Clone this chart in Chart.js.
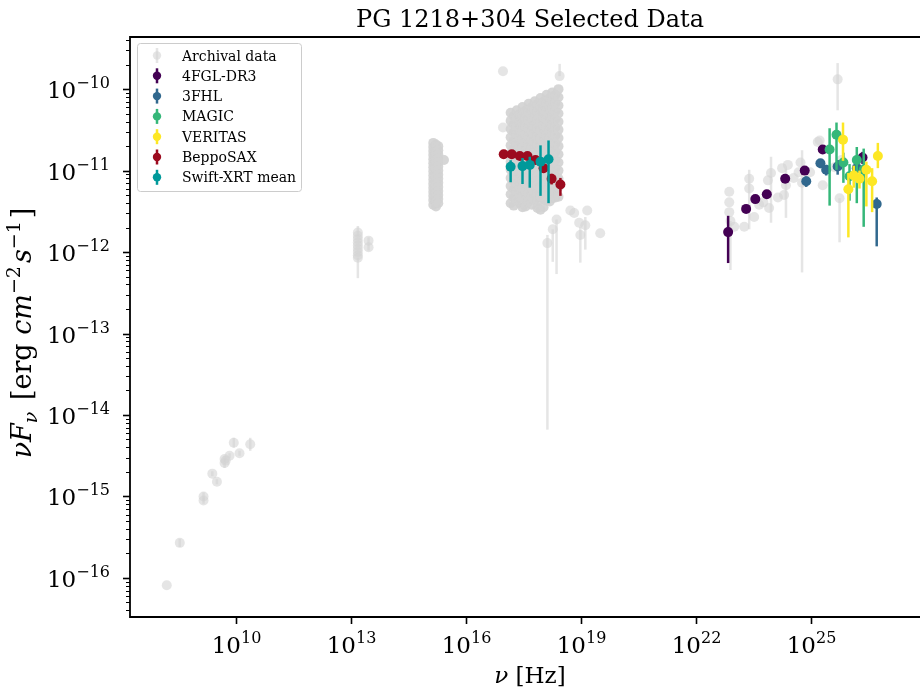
<!DOCTYPE html>
<html>
<head>
<meta charset="utf-8">
<title>PG 1218+304 Selected Data</title>
<script src="https://cdn.jsdelivr.net/npm/chart.js@4.4.1/dist/chart.umd.min.js"></script>
<style>
  html, body { margin: 0; padding: 0; background: #fff; }
  #sed { display: block; }
</style>
</head>
<body>
<canvas id="sed" width="920" height="691"></canvas>
<script>
// ---------- data: log10(nu / Hz), log10(nuFnu / erg cm-2 s-1), error down / up in dex ----------
const fglLogNu = [22.84, 23.31, 23.55, 23.85, 24.33, 24.84, 25.31, 26.35];
const fglLogF  = [-11.755, -11.47, -11.35, -11.29, -11.10, -11.00, -10.74, -10.84];
const fglErrLo = [0.38, 0.04, 0.03, 0.03, 0.03, 0.04, 0.05, 0.08];
const fglErrHi = [0.20, 0.04, 0.03, 0.03, 0.03, 0.04, 0.05, 0.07];

const fhlLogNu = [24.88, 25.25, 25.40, 25.70, 26.20, 26.72];
const fhlLogF  = [-11.13, -10.91, -10.99, -10.95, -10.97, -11.41];
const fhlErrLo = [0.07, 0.06, 0.07, 0.10, 0.13, 0.52];
const fhlErrHi = [0.06, 0.05, 0.06, 0.08, 0.10, 0.08];

const magicLogNu = [25.49, 25.67, 25.85, 26.01, 26.20, 26.38];
const magicLogF  = [-10.74, -10.56, -10.90, -11.07, -10.87, -10.99];
const magicErrLo = [0.69, 0.43, 0.25, 0.30, 0.53, 0.70];
const magicErrHi = [0.26, 0.15, 0.12, 0.15, 0.16, 0.26];

const veritasLogNu = [25.84, 25.98, 26.12, 26.27, 26.45, 26.60, 26.75];
const veritasLogF  = [-10.62, -11.23, -11.06, -11.10, -10.99, -11.13, -10.82];
const veritasErrLo = [0.26, 0.59, 0.15, 0.12, 0.45, 0.38, 0.15];
const veritasErrHi = [0.21, 0.20, 0.12, 0.10, 0.10, 0.16, 0.16];

const beppoLogNu = [16.98, 17.19, 17.40, 17.60, 17.81, 18.02, 18.23, 18.46];
const beppoLogF  = [-10.80, -10.80, -10.82, -10.82, -10.87, -10.97, -11.10, -11.17];
const beppoErrLo = [0.03, 0.03, 0.03, 0.03, 0.04, 0.06, 0.07, 0.14];
const beppoErrHi = [0.03, 0.03, 0.03, 0.03, 0.04, 0.05, 0.06, 0.08];

const swiftLogNu = [17.16, 17.47, 17.66, 17.94, 18.15];
const swiftLogF  = [-10.953, -10.945, -10.93, -10.89, -10.86];
const swiftErrLo = [0.19, 0.22, 0.28, 0.42, 0.54];
const swiftErrHi = [0.08, 0.10, 0.10, 0.20, 0.23];

// archival points: [logNu, logF, errLo, errHi]
const archivalPoints = [
  // radio
  [8.18, -16.09, 0, 0], [8.52, -15.57, 0.05, 0.05], [9.14, -15.00, 0.05, 0.05],
  [9.14, -15.05, 0.04, 0.04], [9.37, -14.72, 0.03, 0.03], [9.49, -14.82, 0.03, 0.03],
  [9.69, -14.59, 0.06, 0.06], [9.69, -14.54, 0.04, 0.04], [9.72, -14.56, 0, 0],
  [9.82, -14.50, 0.03, 0.03], [9.93, -14.34, 0.06, 0.06], [10.08, -14.47, 0.03, 0.03],
  [10.36, -14.36, 0.08, 0.08],
  // infrared
  [13.17, -11.76, 0.05, 0.08], [13.17, -11.84, 0, 0], [13.17, -11.92, 0, 0],
  [13.17, -12.00, 0, 0], [13.17, -12.07, 0.25, 0], [13.45, -11.86, 0.04, 0.04],
  [13.45, -11.94, 0.04, 0.04], [13.17, -11.80, 0, 0], [13.17, -11.88, 0, 0],
  [13.17, -11.96, 0, 0], [13.17, -12.04, 0, 0],
  // X-ray outliers and tail
  [16.96, -9.78, 0, 0], [16.96, -10.47, 0, 0], [18.44, -9.84, 0, 0.15],
  [18.72, -11.49, 0, 0], [18.82, -11.52, 0, 0], [18.95, -11.64, 0, 0],
  [19.16, -11.49, 0, 0], [19.50, -11.77, 0, 0], [18.98, -11.79, 0.34, 0.10],
  [18.12, -11.89, 2.29, 0.10], [18.26, -11.72, 0.40, 0], [18.36, -11.60, 0.67, 0],
  [19.11, -11.67, 0.30, 0.10], [17.47, -11.40, 0.10, 0],
  // gamma-ray
  [22.87, -11.26, 0, 0], [22.87, -11.39, 0, 0], [22.87, -11.51, 0, 0],
  [22.90, -11.62, 0.60, 0], [23.00, -11.69, 0, 0], [23.26, -11.69, 0, 0],
  [23.39, -11.10, 0.62, 0.11], [23.39, -11.22, 0, 0], [23.52, -11.57, 0, 0],
  [23.65, -11.42, 0, 0], [23.76, -11.39, 0, 0], [23.88, -11.12, 0, 0],
  [23.96, -11.03, 0.61, 0.20], [23.91, -11.46, 0, 0], [24.14, -11.33, 0, 0],
  [24.30, -11.30, 0, 0], [24.40, -10.93, 0, 0], [24.35, -11.18, 0.40, 0.20],
  [24.55, -11.09, 0, 0], [24.73, -10.90, 0, 0], [24.68, -11.02, 0, 0],
  [24.77, -11.15, 1.10, 0.40], [24.98, -11.02, 0, 0], [25.18, -10.65, 0, 0],
  [25.23, -10.63, 0, 0], [25.31, -11.18, 0, 0], [25.62, -10.96, 0, 0],
  [25.70, -9.88, 0.38, 0.20], [25.75, -11.34, 0.54, 0], [25.80, -10.87, 0, 0],
  [24.25, -10.97, 0, 0]
];

// optical/UV column, read column by column (many overlapping epochs)
const opticalNu = [15.14, 15.21, 15.27, 15.42];
const opticalF = [
  [-10.66, -10.71, -10.76, -10.81, -10.86, -10.91, -10.96, -11.01, -11.06, -11.11, -11.16, -11.21, -11.26, -11.31, -11.36, -11.42],
  [-10.68, -10.78, -10.88, -10.98, -11.08, -11.18, -11.28, -11.38, -11.44],
  [-10.70, -10.75, -10.80, -10.85, -10.90, -10.95, -11.00, -11.05, -11.10, -11.15, -11.20, -11.25, -11.30, -11.35, -11.40],
  [-10.87]
];

// dense X-ray light-curve region, read column by column (many overlapping epochs)
const xrayBlobNu = [17.16, 17.24, 17.32, 17.40, 17.47, 17.55, 17.63, 17.71, 17.79,
                    17.86, 17.94, 18.02, 18.10, 18.18, 18.25, 18.33, 18.41];
const xrayBlobF = [
  [-10.29, -10.39, -10.49, -10.59, -10.69, -10.79, -10.89, -10.99, -11.09, -11.19, -11.29, -11.40],
  [-10.33, -10.43, -10.53, -10.63, -10.73, -10.83, -10.93, -11.03, -11.13, -11.23, -11.33, -11.43],
  [-10.26, -10.36, -10.46, -10.56, -10.66, -10.76, -10.86, -10.96, -11.06, -11.16, -11.26, -11.36],
  [-10.30, -10.40, -10.50, -10.60, -10.70, -10.80, -10.90, -11.00, -11.10, -11.20, -11.30, -11.40],
  [-10.22, -10.32, -10.42, -10.52, -10.62, -10.72, -10.82, -10.92, -11.02, -11.12, -11.22, -11.33, -11.45],
  [-10.26, -10.36, -10.46, -10.56, -10.66, -10.76, -10.86, -10.96, -11.06, -11.16, -11.26, -11.36, -11.44],
  [-10.18, -10.28, -10.38, -10.48, -10.58, -10.68, -10.78, -10.88, -10.98, -11.08, -11.18, -11.28, -11.38],
  [-10.22, -10.32, -10.42, -10.52, -10.62, -10.72, -10.82, -10.92, -11.02, -11.12, -11.22, -11.32, -11.42],
  [-10.15, -10.25, -10.35, -10.45, -10.55, -10.65, -10.75, -10.85, -10.95, -11.05, -11.15, -11.25, -11.36],
  [-10.18, -10.28, -10.38, -10.48, -10.58, -10.68, -10.78, -10.88, -10.98, -11.08, -11.18, -11.28, -11.38, -11.46],
  [-10.11, -10.21, -10.31, -10.41, -10.51, -10.61, -10.71, -10.81, -10.91, -11.01, -11.11, -11.21, -11.32, -11.48],
  [-10.15, -10.25, -10.35, -10.45, -10.55, -10.65, -10.75, -10.85, -10.95, -11.05, -11.15, -11.25, -11.35, -11.45],
  [-10.07, -10.17, -10.27, -10.37, -10.47, -10.57, -10.67, -10.77, -10.87, -10.97, -11.07, -11.17, -11.27, -11.37],
  [-10.11, -10.21, -10.31, -10.41, -10.51, -10.61, -10.71, -10.81, -10.91, -11.01, -11.11, -11.21, -11.31, -11.38],
  [-10.04, -10.14, -10.24, -10.34, -10.44, -10.54, -10.64, -10.74, -10.84, -10.94, -11.04, -11.14, -11.24, -11.34],
  [-10.07, -10.17, -10.27, -10.37, -10.47, -10.57, -10.67, -10.77, -10.87, -10.97, -11.07, -11.17, -11.27, -11.33],
  [-10.00, -10.10, -10.20, -10.30, -10.40, -10.50, -10.60, -10.70, -10.80, -10.90, -11.00, -11.10, -11.20, -11.32]
];

const xTickExps = [10, 13, 16, 19, 22, 25];
const yTickExps = [-16, -15, -14, -13, -12, -11, -10];

// ---------- styles ----------
const SERIF = '"DejaVu Serif", "Liberation Serif", serif';
const ARCHIVAL_COLOR = 'rgba(211, 211, 211, 0.6)';
// where hundreds of archival epochs pile up the grey saturates
const ARCHIVAL_DENSE_COLOR = 'rgba(211, 211, 211, 0.92)';
const MARKER_R = 5;

// ---------- helpers ----------
function toPoints(logNu, logF, errLo, errHi) {
  return logNu.map((n, i) => ({
    x: 10 ** n,
    y: 10 ** logF[i],
    yMin: 10 ** (logF[i] - errLo[i]),
    yMax: 10 ** (logF[i] + errHi[i])
  }));
}

function columnPoints(nus, fluxCols) {
  const pts = [];
  nus.forEach((n, c) => {
    fluxCols[c].forEach(f => pts.push({ x: 10 ** n, y: 10 ** f, yMin: 10 ** f, yMax: 10 ** f, dense: true }));
  });
  return pts;
}

function archivalToPoints() {
  const pts = archivalPoints.map(p => ({
    x: 10 ** p[0], y: 10 ** p[1], yMin: 10 ** (p[1] - p[2]), yMax: 10 ** (p[1] + p[3])
  }));
  return pts.concat(columnPoints(opticalNu, opticalF), columnPoints(xrayBlobNu, xrayBlobF));
}

function makeSet(label, color, data, order) {
  return {
    label, data, order,
    backgroundColor: color,
    legendColor: color,
    errorColor: color,
    borderWidth: 0,
    pointRadius: MARKER_R,
    pointHoverRadius: MARKER_R
  };
}

// draws a row of text pieces (for superscripts / subscripts / italics)
function drawRuns(ctx, runs, x, y, align) {
  let total = 0;
  runs.forEach(r => { ctx.font = r.font; r.w = ctx.measureText(r.text).width + (r.gap || 0); total += r.w; });
  let cx = align === 'center' ? x - total / 2 : align === 'right' ? x - total : x;
  ctx.textAlign = 'left';
  ctx.textBaseline = 'alphabetic';
  runs.forEach(r => { ctx.font = r.font; ctx.fillText(r.text, cx, y + (r.dy || 0)); cx += r.w; });
}

function powRuns(exp) {
  const e = exp < 0 ? '\u2212' + Math.abs(exp) : String(exp);
  return [
    { text: '10', font: `23px ${SERIF}` },
    { text: e, font: `16px ${SERIF}`, dy: -10 }
  ];
}

// ---------- plugins ----------
const errorBarPlugin = {
  id: 'errorBars',
  beforeDatasetDraw(chart, args) {
    const ds = chart.data.datasets[args.index];
    const { ctx, chartArea: a, scales: { x, y } } = chart;
    ctx.save();
    ctx.beginPath();
    ctx.rect(a.left, a.top, a.right - a.left, a.bottom - a.top);
    ctx.clip();
    ctx.strokeStyle = ds.errorColor;
    ctx.lineWidth = 2.5;
    ds.data.forEach(p => {
      if (p.yMin === p.y && p.yMax === p.y) return;
      const px = x.getPixelForValue(p.x);
      ctx.beginPath();
      ctx.moveTo(px, y.getPixelForValue(p.yMax));
      ctx.lineTo(px, y.getPixelForValue(p.yMin));
      ctx.stroke();
    });
    ctx.restore();
  }
};

const axesPlugin = {
  id: 'mplAxes',
  afterDraw(chart) {
    const { ctx, chartArea: a, scales: { x, y } } = chart;
    // the axes run past the right edge of the picture; centre things on the full axes
    const axesRight = 930;
    const midX = (a.left + axesRight) / 2;
    ctx.save();
    ctx.fillStyle = '#000';
    ctx.strokeStyle = '#000';

    // spines (left, bottom, top)
    ctx.lineWidth = 1.8;
    ctx.beginPath();
    ctx.moveTo(axesRight, a.top); ctx.lineTo(a.left, a.top);
    ctx.lineTo(a.left, a.bottom); ctx.lineTo(axesRight, a.bottom);
    ctx.stroke();

    // x ticks + labels
    ctx.lineWidth = 1.6;
    xTickExps.forEach(e => {
      const px = Math.round(x.getPixelForValue(10 ** e)) + 0.5;
      ctx.beginPath(); ctx.moveTo(px, a.bottom); ctx.lineTo(px, a.bottom + 7); ctx.stroke();
      drawRuns(ctx, powRuns(e), px, a.bottom + 36, 'center');
    });

    // y major ticks + labels
    yTickExps.forEach(e => {
      const py = Math.round(y.getPixelForValue(10 ** e)) + 0.5;
      ctx.lineWidth = 1.6;
      ctx.beginPath(); ctx.moveTo(a.left - 7, py); ctx.lineTo(a.left, py); ctx.stroke();
      drawRuns(ctx, powRuns(e), a.left - 20, py + 8, 'right');
    });
    // y minor ticks
    ctx.lineWidth = 1;
    for (let e = -17; e <= -10; e++) {
      for (let k = 2; k <= 9; k++) {
        const v = k * 10 ** e;
        if (v < y.min || v > y.max) continue;
        const py = Math.round(y.getPixelForValue(v)) + 0.5;
        ctx.beginPath(); ctx.moveTo(a.left - 4, py); ctx.lineTo(a.left, py); ctx.stroke();
      }
    }

    // title
    ctx.font = `24px ${SERIF}`;
    ctx.textAlign = 'center';
    ctx.textBaseline = 'alphabetic';
    ctx.fillText('PG 1218+304 Selected Data', midX, 27);

    // x axis label
    drawRuns(ctx, [
      { text: '\u03bd', font: `italic 23px ${SERIF}` },
      { text: ' [Hz]', font: `23px ${SERIF}` }
    ], midX, 683, 'center');

    // y axis label
    ctx.save();
    ctx.translate(22, 333);
    ctx.rotate(-Math.PI / 2);
    drawRuns(ctx, [
      { text: '\u03bdF', font: `italic 27px ${SERIF}` },
      { text: '\u03bd', font: `italic 19px ${SERIF}`, dy: 6, gap: 3 },
      { text: ' [erg ', font: `27px ${SERIF}` },
      { text: 'cm', font: `italic 27px ${SERIF}` },
      { text: '\u22122', font: `19px ${SERIF}`, dy: -11, gap: 3 },
      { text: 's', font: `italic 27px ${SERIF}` },
      { text: '\u22121', font: `19px ${SERIF}`, dy: -11, gap: 3 },
      { text: ']', font: `27px ${SERIF}` }
    ], 0, 9, 'center');
    ctx.restore();

    // legend
    const lx = 137.5, ly = 43.5, lw = 164, lh = 148;
    ctx.beginPath();
    ctx.roundRect(lx, ly, lw, lh, 3);
    ctx.fillStyle = 'rgba(255,255,255,0.8)';
    ctx.fill();
    ctx.strokeStyle = '#cccccc';
    ctx.lineWidth = 1;
    ctx.stroke();
    const entries = chart.data.datasets.slice().sort((p, q) => q.order - p.order);
    entries.forEach((ds, i) => {
      const cy = 55.5 + i * 20.3;
      ctx.strokeStyle = ds.errorColor;
      ctx.fillStyle = ds.legendColor;
      ctx.lineWidth = 2.5;
      ctx.beginPath(); ctx.moveTo(157, cy - 7.5); ctx.lineTo(157, cy + 7.5); ctx.stroke();
      ctx.beginPath(); ctx.arc(157, cy, 4.2, 0, Math.PI * 2); ctx.fill();
      ctx.fillStyle = '#000';
      ctx.font = `14px ${SERIF}`;
      ctx.textAlign = 'left';
      ctx.fillText(ds.label, 182, cy + 5);
    });

    ctx.restore();
  }
};

// ---------- chart ----------
const archivalSet = makeSet('Archival data', ARCHIVAL_COLOR, archivalToPoints(), 6);
archivalSet.backgroundColor = c => (c.raw && c.raw.dense ? ARCHIVAL_DENSE_COLOR : ARCHIVAL_COLOR);

const datasets = [
  archivalSet,
  makeSet('4FGL-DR3', '#440154', toPoints(fglLogNu, fglLogF, fglErrLo, fglErrHi), 5),
  makeSet('3FHL', '#31688e', toPoints(fhlLogNu, fhlLogF, fhlErrLo, fhlErrHi), 4),
  makeSet('MAGIC', '#35b779', toPoints(magicLogNu, magicLogF, magicErrLo, magicErrHi), 3),
  makeSet('VERITAS', '#fde725', toPoints(veritasLogNu, veritasLogF, veritasErrLo, veritasErrHi), 2),
  makeSet('BeppoSAX', '#9c0b1f', toPoints(beppoLogNu, beppoLogF, beppoErrLo, beppoErrHi), 1),
  makeSet('Swift-XRT mean', '#00999a', toPoints(swiftLogNu, swiftLogF, swiftErrLo, swiftErrHi), 0)
];

new Chart(document.getElementById('sed'), {
  type: 'scatter',
  data: { datasets },
  options: {
    responsive: false,
    animation: false,
    events: [],
    layout: { padding: { left: 130, top: 37, right: 0, bottom: 74 } },
    plugins: {
      legend: { display: false },
      tooltip: { enabled: false },
      title: { display: false }
    },
    scales: {
      x: { type: 'logarithmic', display: false, min: 10 ** 7.22, max: 10 ** 27.72 },
      y: { type: 'logarithmic', display: false, min: 10 ** -16.48, max: 10 ** -9.36 }
    }
  },
  plugins: [errorBarPlugin, axesPlugin]
});
</script>
</body>
</html>
